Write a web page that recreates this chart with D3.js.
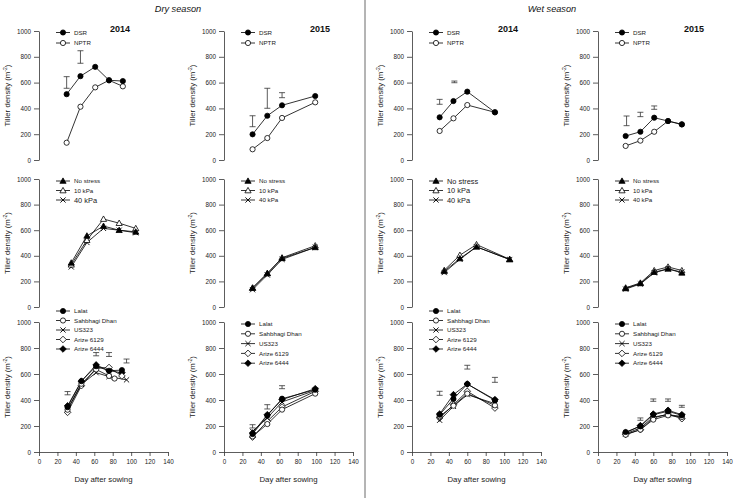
<!DOCTYPE html>
<html><head><meta charset="utf-8">
<script src="https://cdn.jsdelivr.net/npm/d3@7"></script>
<style>
body{margin:0;background:#fff;}
svg text{font-family:"Liberation Sans",Arial,sans-serif;}
</style></head>
<body><svg id="c" width="733" height="498"></svg>
<script>
// ---------- data ----------
const seasons = ["Dry season", "Wet season"];
const years = ["2014", "2015", "2014", "2015"];
const yTicks = [0, 200, 400, 600, 800, 1000];
const xTicks = [0, 20, 40, 60, 80, 100, 120, 140];
const yLabel = "Tiller density (m";
const xLabel = "Day after sowing";

// Row 1: establishment method
const estSeries = ["DSR", "NPTR"];
const estDays = [[30,45,61,76,91],[31,47,63,99],[30,45,60,90],[30,46,61,76,91]];
const dsr  = [[510,650,722,618,612],[199,343,424,496],[331,457,530,370],[186,219,328,302,276]];
const nptr = [[134,413,563,618,571],[83,170,326,447],[225,323,426,370],[109,150,219,302,276]];
const estErr = [
  [[30,556,646],[45,750,847]],
  [[31,258,343],[47,401,556],[63,483,522]],
  [[30,432,470],[46,599,612]],
  [[31,266,341],[46,336,370],[61,393,419]]
];

// Row 2: water stress
const stressSeries = ["No stress", "10 kPa", "40 kPa"];
const stressDays = [[35,52,70,87,105],[31,47,63,99],[35,52,70,106],[30,46,61,76,91]];
const noStress = [[345,556,632,600,587],[148,262,380,466],[279,379,470,371],[145,184,272,298,267]];
const kPa10    = [[330,522,687,655,614],[150,263,385,479],[287,405,488,373],[150,188,285,313,285]];
const kPa40    = [[313,504,614,600,580],[135,250,372,466],[269,373,470,371],[140,180,267,298,272]];
const stressLegendBig = [[false,false,true],[false,false,false],[true,true,true],[false,false,false]];

// Row 3: varieties
const varieties = ["Lalat", "Sahbhagi Dhan", "US323", "Arize 6129", "Arize 6444"];
const varDays = [
  [[31,46,62,76,90],[31,46,62,76,82],[31,46,62,76,95],[31,46,62,76,90],[31,46,62,76,90]],
  [[31,47,63,99],[31,47,63,99],[31,47,63,99],[31,47,63,99],[31,47,63,99]],
  [[30,45,60,90],[30,45,60,90],[30,45,60,90],[30,45,60,90],[30,45,60,90]],
  [[30,46,60,76,91],[30,46,60,76,91],[30,46,60,76,91],[30,46,60,76,91],[30,46,60,76,91]]
];
const lalat    = [[345,545,660,625,630],[138,280,410,479],[287,408,523,397],[154,197,287,313,282]];
const sahbhagi = [[325,525,635,585,565],[120,215,326,449],[274,356,449,359],[133,172,249,282,269]];
const us323    = [[330,520,610,580,555],[159,262,385,474],[244,351,441,372],[140,185,269,287,274]];
const arize6129= [[305,510,645,650,585],[115,236,346,467],[262,364,467,338],[135,172,262,292,256]];
const arize6444= [[355,545,670,625,610],[146,287,403,487],[292,441,523,403],[146,203,292,321,287]];
const varErr = [
  [[31,440,465],[62,740,765],[76,735,765],[95,685,715]],
  [[31,185,210],[47,331,364],[63,487,510]],
  [[30,436,467],[60,638,667],[90,536,574]],
  [[46,244,262],[60,390,408],[76,390,408],[91,344,359]]
];

// ---------- layout ----------
const colX = [39, 224, 412, 598];
const plotW = 129;
const rowY = [[160,31],[307,179],[452,322]];
const yearX = [120, 320, 508, 694];
const legendY1 = [32.5, 43];
const legendY2 = [181, 190.5, 200];
const legendY3 = [[311,9.5],[324,9.8],[311,9.5],[324,9.8]];

const svg = d3.select("#c");

// marker drawer
function marker(g, type, x, y) {
  const s = 2.6;
  if (type === "circleF" || type === "circleO") {
    g.append("circle").attr("cx", x).attr("cy", y).attr("r", s)
      .attr("fill", type === "circleF" ? "#000" : "#fff").attr("stroke", "#000").attr("stroke-width", 0.8);
  } else if (type === "triF" || type === "triO") {
    const h = 3.1;
    g.append("path").attr("d", `M${x},${y-h}L${x+h},${y+h*0.75}L${x-h},${y+h*0.75}Z`)
      .attr("fill", type === "triF" ? "#000" : "#fff").attr("stroke", "#000").attr("stroke-width", 0.8);
  } else if (type === "x") {
    g.append("path").attr("d", `M${x-s},${y-s}L${x+s},${y+s}M${x-s},${y+s}L${x+s},${y-s}`)
      .attr("stroke", "#000").attr("stroke-width", 0.9).attr("fill", "none");
  } else if (type === "diaF" || type === "diaO") {
    const d = 3.3;
    g.append("path").attr("d", `M${x},${y-d}L${x+d},${y}L${x},${y+d}L${x-d},${y}Z`)
      .attr("fill", type === "diaF" ? "#000" : "#fff").attr("stroke", "#000").attr("stroke-width", 0.8);
  }
}

function drawPanel(row, col, seriesList, errs, legendYs, legendSizes, showX) {
  const ax = colX[col];
  const x = d3.scaleLinear().domain([0, 140]).range([ax, ax + plotW]);
  const y = d3.scaleLinear().domain([0, 1000]).range(rowY[row]);
  const g = svg.append("g");

  const yAxis = g.append("g").attr("transform", `translate(${ax},0)`)
    .call(d3.axisLeft(y).tickValues(yTicks).tickFormat(d3.format("d")).tickSize(5).tickSizeOuter(0).tickPadding(3));
  yAxis.selectAll("text").attr("font-size", 6.3).attr("fill", "#222");
  yAxis.selectAll("line,path").attr("stroke", "#333").attr("stroke-width", 0.8);

  if (showX) {
    const xAxis = g.append("g").attr("transform", `translate(0,${rowY[row][0]})`)
      .call(d3.axisBottom(x).tickValues(xTicks).tickFormat(d3.format("d")).tickSize(4).tickSizeOuter(0).tickPadding(4));
    xAxis.selectAll("text").attr("font-size", 6.3).attr("fill", "#222");
    xAxis.selectAll("line,path").attr("stroke", "#333").attr("stroke-width", 0.8);
    g.append("text").attr("x", ax + plotW / 2).attr("y", 482).attr("text-anchor", "middle")
      .attr("font-size", 7.8).attr("fill", "#222").text(xLabel);
  }

  // y title
  const yc = (rowY[row][0] + rowY[row][1]) / 2;
  const t = g.append("text").attr("transform", `translate(${ax - 29.5},${yc}) rotate(-90)`)
    .attr("text-anchor", "middle").attr("font-size", 7.8).attr("fill", "#222");
  t.append("tspan").text(yLabel);
  t.append("tspan").attr("font-size", 5).attr("dy", -3).text("-2");
  t.append("tspan").attr("dy", 3).text(")");

  // error bars
  errs.forEach(e => {
    const ex = x(e[0]), y1 = y(e[1]), y2 = y(e[2]);
    g.append("path").attr("d", `M${ex},${y1}V${y2}M${ex-3},${y1}H${ex+3}M${ex-3},${y2}H${ex+3}`)
      .attr("stroke", "#333").attr("stroke-width", 0.8).attr("fill", "none");
  });

  // lines and markers
  const line = d3.line().x(d => x(d[0])).y(d => y(d[1]));
  seriesList.forEach(s => {
    const pts = s.days.map((d, i) => [d, s.vals[i]]);
    g.append("path").attr("d", line(pts)).attr("fill", "none").attr("stroke", "#000").attr("stroke-width", 0.8);
  });
  seriesList.slice().reverse().forEach(s => {
    s.days.forEach((d, i) => marker(g, s.type, x(d), y(s.vals[i])));
  });

  // legend
  seriesList.forEach((s, i) => {
    const ly = legendYs[i];
    g.append("line").attr("x1", ax + 17).attr("x2", ax + 31).attr("y1", ly).attr("y2", ly)
      .attr("stroke", "#000").attr("stroke-width", 0.8);
    marker(g, s.type, ax + 24, ly);
    g.append("text").attr("x", ax + 35).attr("y", ly).attr("dy", "0.35em")
      .attr("font-size", legendSizes[i]).attr("fill", "#222").text(s.name);
  });
}

for (let c = 0; c < 4; c++) {
  // row 1
  drawPanel(0, c, [
    { name: estSeries[0], type: "circleF", days: estDays[c], vals: dsr[c] },
    { name: estSeries[1], type: "circleO", days: estDays[c], vals: nptr[c] }
  ], estErr[c], legendY1, [6.2, 6.2], false);
  // row 2
  const big = stressLegendBig[c].map(b => b ? 7.4 : 6.2);
  drawPanel(1, c, [
    { name: stressSeries[0], type: "triF", days: stressDays[c], vals: noStress[c] },
    { name: stressSeries[1], type: "triO", days: stressDays[c], vals: kPa10[c] },
    { name: stressSeries[2], type: "x", days: stressDays[c], vals: kPa40[c] }
  ], [], legendY2, big, false);
  // row 3
  const vv = [lalat, sahbhagi, us323, arize6129, arize6444];
  const types = ["circleF", "circleO", "x", "diaO", "diaF"];
  const ly = varieties.map((v, i) => legendY3[c][0] + i * legendY3[c][1]);
  drawPanel(2, c, varieties.map((v, i) => ({ name: v, type: types[i], days: varDays[c][i], vals: vv[i][c] })),
    varErr[c], ly, [6.2, 6.2, 6.2, 6.2, 6.2], true);
  // year
  svg.append("text").attr("x", yearX[c]).attr("y", 31.5).attr("text-anchor", "middle")
    .attr("font-size", 9).attr("font-weight", "bold").attr("fill", "#111").text(years[c]);
}

// season titles
svg.append("text").attr("x", 178).attr("y", 11.5).attr("text-anchor", "middle")
  .attr("font-family", "'Open Sans',sans-serif").attr("font-style", "italic").attr("font-size", 9.2).attr("fill", "#111").text(seasons[0]);
svg.append("text").attr("x", 552).attr("y", 11.5).attr("text-anchor", "middle")
  .attr("font-family", "'Open Sans',sans-serif").attr("font-style", "italic").attr("font-size", 9.2).attr("fill", "#111").text(seasons[1]);

// divider
svg.append("line").attr("x1", 365).attr("x2", 365).attr("y1", 0).attr("y2", 498)
  .attr("stroke", "#444").attr("stroke-width", 0.8);
</script>
</body></html>
